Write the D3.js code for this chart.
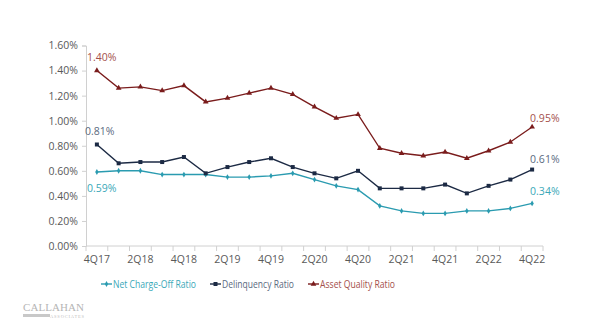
<!DOCTYPE html>
<html lang="en">
<head>
<meta charset="UTF-8">
<title>Credit Quality Ratios</title>
<script src="https://d3js.org/d3.v7.min.js"></script>
<style>
    body { margin: 0; background: #fff; }
    svg { display: block; font-family: "Open Sans", sans-serif; }
</style>
</head>
<body>
<svg id="chart"></svg>
<script>
    const width = 600, height = 327;

    // quarterly data, 4Q17 .. 4Q22
    const quarters = ["4Q17", "1Q18", "2Q18", "3Q18", "4Q18", "1Q19", "2Q19", "3Q19", "4Q19",
        "1Q20", "2Q20", "3Q20", "4Q20", "1Q21", "2Q21", "3Q21", "4Q21", "1Q22", "2Q22", "3Q22", "4Q22"];
    const netChargeOff = [0.59, 0.60, 0.60, 0.57, 0.57, 0.57, 0.55, 0.55, 0.56, 0.58, 0.53,
        0.48, 0.45, 0.32, 0.28, 0.26, 0.26, 0.28, 0.28, 0.30, 0.34];
    const delinquency = [0.81, 0.66, 0.67, 0.67, 0.71, 0.58, 0.63, 0.67, 0.70, 0.63, 0.58,
        0.54, 0.60, 0.46, 0.46, 0.46, 0.49, 0.42, 0.48, 0.53, 0.61];
    const assetQuality = [1.40, 1.26, 1.27, 1.24, 1.28, 1.15, 1.18, 1.22, 1.26, 1.21, 1.11,
        1.02, 1.05, 0.78, 0.74, 0.72, 0.75, 0.70, 0.76, 0.83, 0.95];
    const yTicks = [0, 0.2, 0.4, 0.6, 0.8, 1.0, 1.2, 1.4, 1.6];
    const xLabels = ["4Q17", "2Q18", "4Q18", "2Q19", "4Q19", "2Q20", "4Q20", "2Q21", "4Q21", "2Q22", "4Q22"];

    const series = [
        { name: "Net Charge-Off Ratio", values: netChargeOff, line: "#2a9bb0", label: "#3aa8b8", marker: "diamond" },
        { name: "Delinquency Ratio", values: delinquency, line: "#1c2a44", label: "#5b6a80", marker: "square" },
        { name: "Asset Quality Ratio", values: assetQuality, line: "#7a1c1c", label: "#a4504c", marker: "triangle" }
    ];

    const svg = d3.select("#chart").attr("width", width).attr("height", height);

    const x = d3.scaleBand().domain(quarters).range([86, 543]);
    const y = d3.scaleLinear().domain([0, 1.6]).range([246, 45.5]);
    const cx = q => x(q) + x.bandwidth() / 2;
    const fmt = v => v.toFixed(2) + "%";

    // y axis
    const yAxis = svg.append("g").attr("transform", "translate(86,0)")
        .call(d3.axisLeft(y).tickValues(yTicks).tickFormat(fmt).tickSize(4).tickPadding(4));
    yAxis.select(".domain").attr("stroke", "#d0d0d0");
    yAxis.selectAll(".tick line").attr("stroke", "#d0d0d0");
    yAxis.selectAll("text").attr("fill", "#595959").attr("font-size", 10.5).attr("font-family", "Open Sans");

    // x axis: ticks on category boundaries, labels on every other quarter
    const xg = svg.append("g").attr("transform", "translate(0,246)");
    xg.append("line").attr("x1", 86).attr("x2", 543).attr("stroke", "#d0d0d0");
    const bounds = quarters.map(q => x(q)).concat([x.range()[1]]);
    xg.selectAll("line.tk").data(bounds).join("line").attr("class", "tk")
        .attr("x1", d => d).attr("x2", d => d).attr("y1", 0).attr("y2", 5)
        .attr("stroke", "#d0d0d0");
    xg.selectAll("text").data(xLabels).join("text")
        .attr("x", d => cx(d)).attr("y", 17)
        .attr("text-anchor", "middle").attr("fill", "#595959").attr("font-size", 10.5)
        .text(d => d);

    const symbolType = { diamond: d3.symbolDiamond, square: d3.symbolSquare, triangle: d3.symbolTriangle };
    const symbolSize = { diamond: 10, square: 16, triangle: 14 };

    const line = d3.line().x((d, i) => cx(quarters[i])).y(d => y(d));

    series.forEach(s => {
        svg.append("path").datum(s.values)
            .attr("d", line).attr("fill", "none")
            .attr("stroke", s.line).attr("stroke-width", 1.4);
        svg.append("g").selectAll("path").data(s.values).join("path")
            .attr("transform", (d, i) => `translate(${cx(quarters[i])},${y(d)})`)
            .attr("d", d3.symbol(symbolType[s.marker], symbolSize[s.marker]))
            .attr("fill", s.line);
    });

    // first and last value labels
    const labelOffsets = [
        { first: [-10, 20], last: [-2, -8] },
        { first: [-12, -9], last: [-2, -7] },
        { first: [-10, -10], last: [-2, -5] }
    ];
    series.forEach((s, k) => {
        const n = s.values.length - 1;
        const o = labelOffsets[k];
        svg.append("text")
            .attr("x", cx(quarters[0]) + o.first[0]).attr("y", y(s.values[0]) + o.first[1])
            .attr("fill", s.label).attr("font-size", 10.5).text(fmt(s.values[0]));
        svg.append("text")
            .attr("x", cx(quarters[n]) + o.last[0]).attr("y", y(s.values[n]) + o.last[1])
            .attr("fill", s.label).attr("font-size", 10.5).text(fmt(s.values[n]));
    });

    // legend
    const legendX = [101, 210, 308];
    const legendW = [83, 72, 75];
    const legend = svg.append("g").attr("transform", "translate(0,284)");
    series.forEach((s, k) => {
        const g = legend.append("g").attr("transform", `translate(${legendX[k]},0)`);
        g.append("line").attr("x1", 0).attr("x2", 11).attr("stroke", s.line).attr("stroke-width", 1.4);
        g.append("path").attr("transform", "translate(5.5,0)")
            .attr("d", d3.symbol(symbolType[s.marker], symbolSize[s.marker]))
            .attr("fill", s.line);
        g.append("text").attr("x", 12).attr("y", 4)
            .attr("fill", s.label).attr("font-size", 10.5)
            .attr("textLength", legendW[k]).attr("lengthAdjust", "spacingAndGlyphs")
            .text(s.name);
    });

    // company mark
    const logo = svg.append("g").attr("transform", "translate(23,0)");
    logo.append("text").attr("x", 0).attr("y", 310.5)
        .attr("font-family", "Liberation Serif, serif").attr("font-size", 11)
        .attr("fill", "#b5b5b5").attr("textLength", 61).text("CALLAHAN");
    logo.append("rect").attr("x", 0).attr("y", 314).attr("width", 27).attr("height", 3).attr("fill", "#c8c8c8");
    logo.append("text").attr("x", 27).attr("y", 318)
        .attr("font-family", "Liberation Serif, serif").attr("font-size", 4.5)
        .attr("fill", "#c0c0c0").attr("textLength", 34).text("ASSOCIATES");
</script>
</body>
</html>
